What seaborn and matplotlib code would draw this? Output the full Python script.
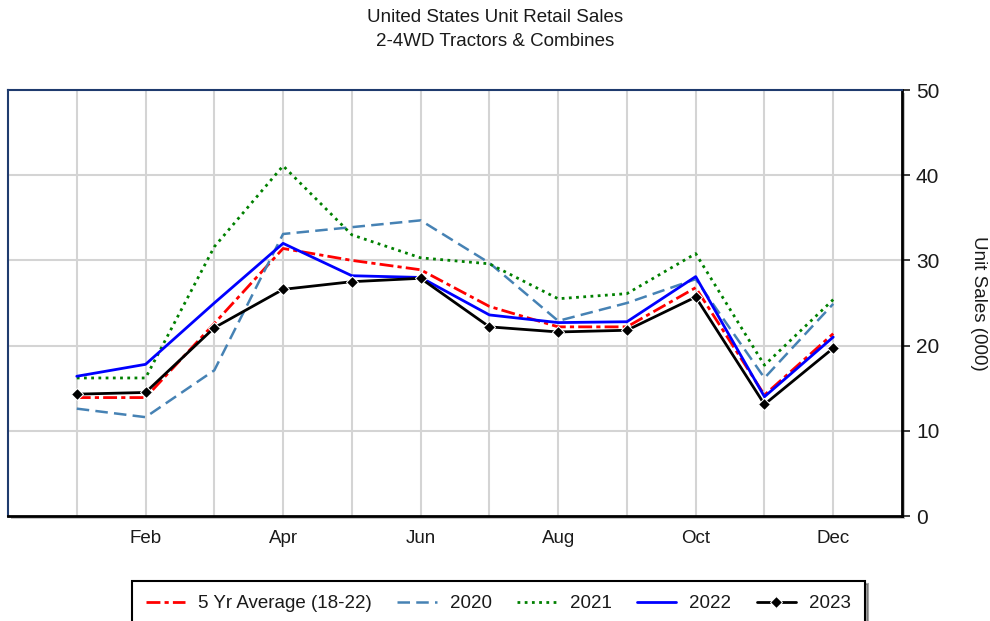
import matplotlib
matplotlib.use("Agg")
import matplotlib.pyplot as plt
import seaborn as sns
import pandas as pd
from matplotlib.patches import Rectangle

months = list(range(1, 13))
month_labels = ["Jan", "Feb", "Mar", "Apr", "May", "Jun", "Jul", "Aug", "Sep", "Oct", "Nov", "Dec"]
avg_5yr = [13.9, 13.9, 22.6, 31.4, 30.0, 28.9, 24.6, 22.2, 22.2, 26.8, 14.2, 21.4]
y2020 = [12.6, 11.6, 17.1, 33.1, 33.9, 34.7, 29.7, 22.9, 25.0, 27.8, 16.2, 24.9]
y2021 = [16.2, 16.2, 31.6, 41.1, 33.0, 30.3, 29.6, 25.5, 26.1, 30.8, 17.7, 25.4]
y2022 = [16.4, 17.8, 25.0, 32.0, 28.2, 28.0, 23.6, 22.7, 22.8, 28.1, 14.0, 21.0]
y2023 = [14.3, 14.5, 22.1, 26.6, 27.5, 27.9, 22.2, 21.6, 21.8, 25.7, 13.1, 19.7]

sns.set_style("white")
plt.rcParams['font.family'] = ['Liberation Sans', 'DejaVu Sans']
plt.rcParams['text.color'] = '#1a1a1a'
plt.rcParams['xtick.color'] = '#1a1a1a'
plt.rcParams['ytick.color'] = '#1a1a1a'
plt.rcParams['axes.labelcolor'] = '#1a1a1a'

fig = plt.figure(figsize=(9.9, 6.21), dpi=100)
ax_rect = [8/990, 105/621, 894/990, 426/621]
# subtle drop shadow behind plot frame
fig.patches.append(Rectangle((ax_rect[0] + 3/990, ax_rect[1] - 3/621), ax_rect[2], ax_rect[3],
                             transform=fig.transFigure, facecolor="#c4c4c4", edgecolor="none", zorder=-5))
ax = fig.add_axes(ax_rect)
ax.set_zorder(2)
ax.set_facecolor("white")

grid_c = "#d4d4d4"
for m in months:
    ax.axvline(m, color=grid_c, lw=1.5, zorder=0)
for v in [10, 20, 30, 40]:
    ax.axhline(v, color=grid_c, lw=1.5, zorder=0)

series = [
    ("5 Yr Average (18-22)", avg_5yr, dict(color="#FF0000", lw=2.0, dashes=(5, 1.5, 1.5, 1.5))),
    ("2020", y2020, dict(color="#4682B4", lw=1.8, dashes=(5, 2.5))),
    ("2021", y2021, dict(color="#008000", lw=2.0, dashes=(1, 1.6))),
    ("2022", y2022, dict(color="#0000FF", lw=2.0)),
    ("2023", y2023, dict(color="#000000", lw=2.0, marker="D", markersize=6)),
]
for name, vals, st in series:
    df = pd.DataFrame({"month": months, "value": vals})
    sns.lineplot(data=df, x="month", y="value", ax=ax, label=name, zorder=3, **st)

ax.set_xlim(0, 13)
ax.set_ylim(0, 50)
ax.set_xticks(months[1::2])
ax.set_xticklabels(month_labels[1::2], fontsize=13.5)
ax.tick_params(axis="x", length=0, pad=10)
ax.yaxis.tick_right()
ax.yaxis.set_label_position("right")
ax.set_yticks([0, 10, 20, 30, 40, 50])
ax.tick_params(axis="y", which="both", right=True, length=6, width=1.2, labelsize=15, pad=4, direction="out")
ax.set_xlabel("")
ax.set_ylabel("Unit Sales (000)", rotation=-90, fontsize=13.5, va="center")
ax.yaxis.set_label_coords((978 - 8) / 894, 0.5)

for s in ["top", "left"]:
    ax.spines[s].set_color("#1F3B6E")
    ax.spines[s].set_linewidth(1.5)
for s in ["right", "bottom"]:
    ax.spines[s].set_color("#000000")
    ax.spines[s].set_linewidth(2)
    ax.spines[s].set_visible(True)

fig.text(0.5, 1 - 18/621, "United States Unit Retail Sales", ha="center", va="center", fontsize=13.5)
fig.text(0.5, 1 - 42/621, "2-4WD Tractors & Combines", ha="center", va="center", fontsize=13.5)

ax.get_legend().remove()
handles, labels = ax.get_legend_handles_labels()
leg = fig.legend(handles, labels, loc="upper center", bbox_to_anchor=(498.5/990, 1 - 581/621), ncol=5,
                 frameon=True, fancybox=False, shadow=True, fontsize=13.5, handlelength=2.1,
                 columnspacing=1.35, borderpad=0.75, handletextpad=0.7, borderaxespad=0)
leg.get_frame().set_edgecolor("black")
leg.get_frame().set_linewidth(1.5)

fig.savefig("out.png", dpi=100)
